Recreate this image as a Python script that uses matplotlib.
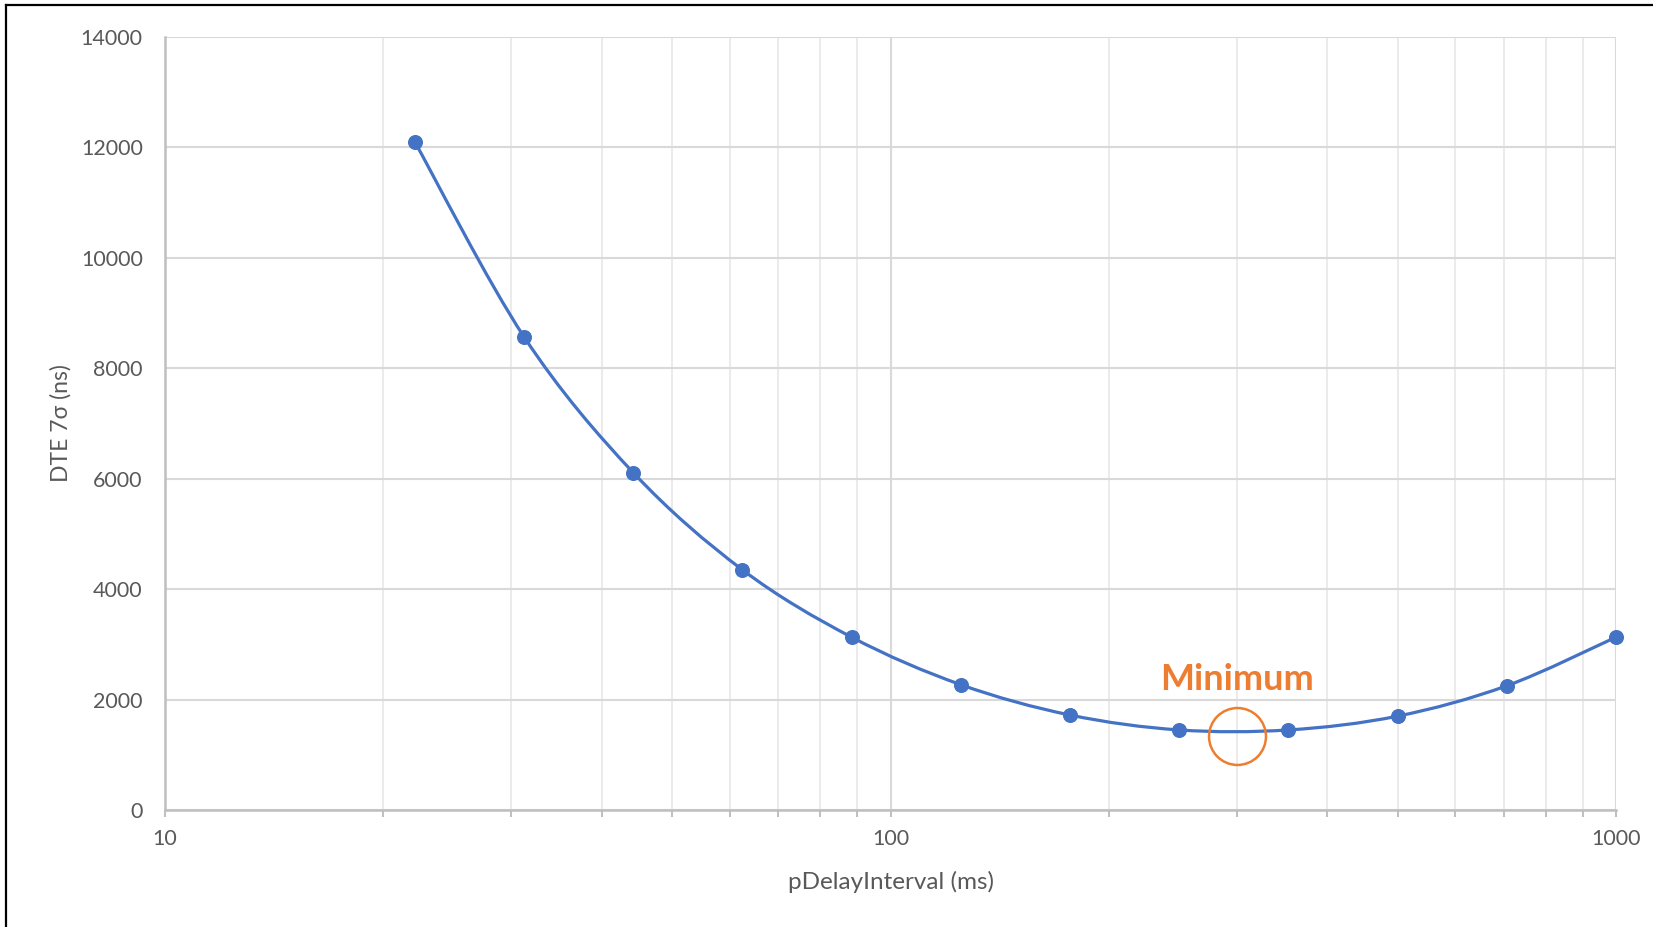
import numpy as np
import matplotlib
matplotlib.use("Agg")
import matplotlib.pyplot as plt
from matplotlib.path import Path
from matplotlib.patches import PathPatch
from matplotlib.lines import Line2D
from matplotlib.ticker import FixedLocator, NullFormatter, FixedFormatter

# ---- data ----
interval_ms = [22.1, 31.25, 44.2, 62.5, 88.4, 125, 176.8, 250, 353.6, 500, 707.1, 1000]
dte_ns = [12100, 8570, 6110, 4350, 3130, 2270, 1720, 1450, 1450, 1700, 2250, 3130]
min_x = 300
min_y = 1340
min_label = "Minimum"
x_major = [10, 100, 1000]
x_major_labels = ["10", "100", "1000"]
y_ticks = [0, 2000, 4000, 6000, 8000, 10000, 12000, 14000]

BLUE = "#4472C4"
ORANGE = "#ED7D31"
GREY_TXT = "#595959"

plt.rcParams['font.family'] = ['Lato', 'DejaVu Sans']

fig = plt.figure(figsize=(16.53, 9.27), dpi=100)
ax = fig.add_axes([165/1653, 1-810/927, (1616-165)/1653, (810-37)/927])

ax.set_xscale('log')
ax.set_xlim(10, 1000)
ax.set_ylim(0, 14000)

# smoothed curve (Catmull-Rom in log-x space, as Excel's smoothed line)
lx = np.log10(interval_ms)
yy = np.array(dte_ns, dtype=float)
n = len(lx)
verts = [(lx[0], yy[0])]
codes = [Path.MOVETO]
t = 1/6
for i in range(n-1):
    p0 = np.array([lx[max(i-1, 0)], yy[max(i-1, 0)]])
    p1 = np.array([lx[i], yy[i]])
    p2 = np.array([lx[i+1], yy[i+1]])
    p3 = np.array([lx[min(i+2, n-1)], yy[min(i+2, n-1)]])
    c1 = p1 + (p2 - p0) * t
    c2 = p2 - (p3 - p1) * t
    verts += [tuple(c1), tuple(c2), tuple(p2)]
    codes += [Path.CURVE4]*3
verts = [(10**vx, vy) for vx, vy in verts]
patch = PathPatch(Path(verts, codes), facecolor='none', edgecolor=BLUE, lw=2.3, zorder=3,
                  capstyle='round', joinstyle='round')
ax.add_patch(patch)
ax.plot(interval_ms, dte_ns, 'o', color=BLUE, markersize=9.8, zorder=4, clip_on=False)

# minimum annotation
ax.plot([min_x], [min_y], 'o', markersize=41, markerfacecolor='none',
        markeredgecolor=ORANGE, markeredgewidth=1.8, zorder=5)
ax.text(min_x, 2355, min_label, color=ORANGE, fontsize=26, fontweight='bold',
        ha='center', va='center', zorder=5)

# ticks and grid
ax.xaxis.set_major_locator(FixedLocator(x_major))
ax.xaxis.set_major_formatter(FixedFormatter(x_major_labels))
minor = [m*d for d in (10, 100) for m in range(2, 10)]
ax.xaxis.set_minor_locator(FixedLocator(minor))
ax.xaxis.set_minor_formatter(NullFormatter())
ax.set_yticks(y_ticks)
ax.set_yticklabels([str(v) for v in y_ticks])

ax.grid(True, which='major', axis='both', color='#D9D9D9', lw=1.5, zorder=0)
ax.grid(True, which='minor', axis='x', color='#EBEBEB', lw=1.4, zorder=0)
ax.set_axisbelow(True)

for s in ['top', 'right']:
    ax.spines[s].set_visible(False)
for s in ['left', 'bottom']:
    ax.spines[s].set_color('#BFBFBF')
    ax.spines[s].set_linewidth(1.8)

ax.tick_params(axis='y', length=0, pad=16, labelsize=15.5, labelcolor=GREY_TXT)
ax.tick_params(axis='x', which='both', length=5, width=1.4, color='#BFBFBF',
               direction='out', pad=9, labelsize=15.5, labelcolor=GREY_TXT)

ax.set_xlabel("pDelayInterval (ms)", fontsize=17.5, color=GREY_TXT, labelpad=15.5)
ax.set_ylabel("DTE 7σ (ns)", fontsize=16.5, color=GREY_TXT, labelpad=6.5)

# outer black frame (left and top only)
fig.add_artist(Line2D([6/1653, 6/1653], [0, 1-5/927], transform=fig.transFigure, color='black', lw=1.6))
fig.add_artist(Line2D([6/1653, 1], [1-5/927, 1-5/927], transform=fig.transFigure, color='black', lw=1.6))

fig.savefig("out.png", dpi=100)
